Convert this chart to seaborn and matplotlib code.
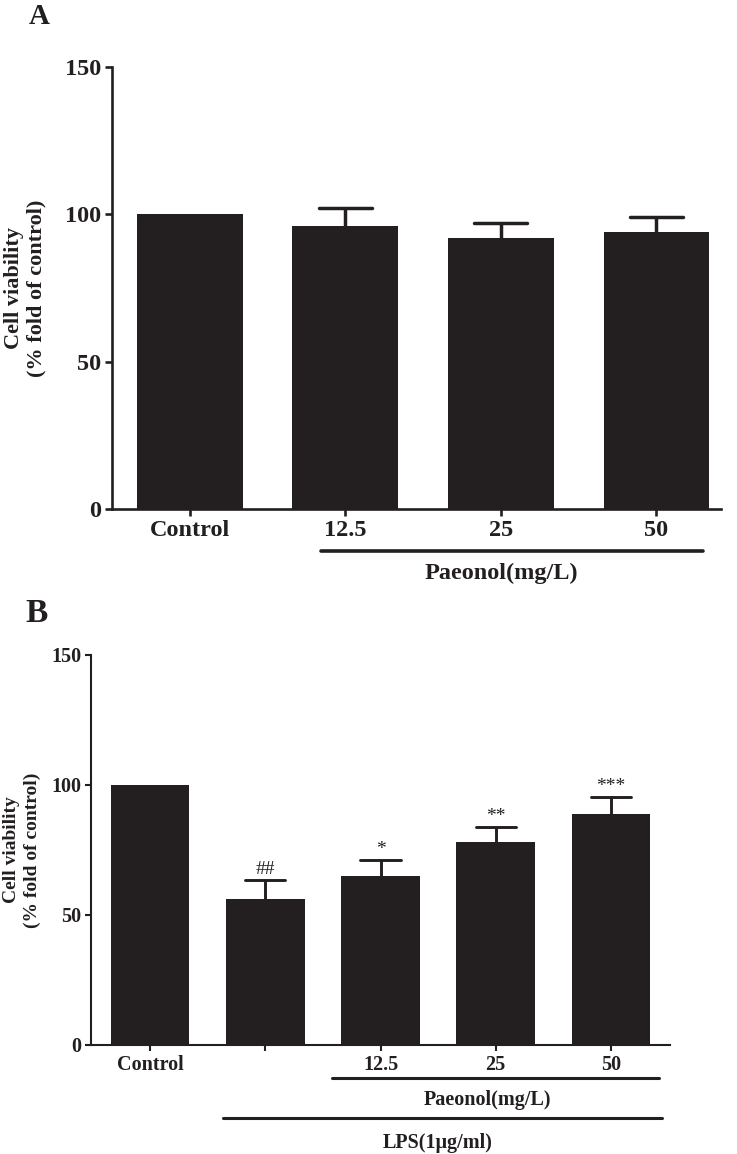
import matplotlib
matplotlib.use("Agg")
import matplotlib.pyplot as plt
import matplotlib.transforms as mtrans
import seaborn as sns
import pandas as pd
import numpy as np

# ---------------- data ----------------
a_groups = ["Control", "12.5", "25", "50"]
a_ticklabels = ["Control", "12.5", "25", "50"]
a_means = [100, 96, 92, 94]
a_sem = [0, 6, 5, 5]

b_groups = ["Control", "LPS", "12.5", "25", "50"]
b_ticklabels = ["Control", "", "12.5", "25", "50"]
b_means = [100, 56, 65, 78, 89]
b_sem = [0, 7.5, 6, 6, 6.5]
b_marks = ["", "##", "*", "**", "***"]

yticks = [0, 50, 100, 150]
ylabel_text = "Cell viability\n(% fold of control)"
paeonol_label = "Paeonol(mg/L)"
lps_label = "LPS(1\u03bcg/ml)"

# ---------------- style ----------------
sns.set_theme(style="ticks")
plt.rcParams["font.family"] = ["Liberation Serif", "DejaVu Serif"]
plt.rcParams["font.weight"] = "bold"
plt.rcParams["axes.labelweight"] = "bold"
BAR = "#231f20"

W, H = 737, 1154
fig = plt.figure(figsize=(W / 100, H / 100), dpi=100)
fig.patch.set_facecolor("white")


def axrect(l, t, r, b):
    return [l / W, 1 - b / H, (r - l) / W, (b - t) / H]


axA = fig.add_axes(axrect(112, 67, 721, 509))
axB = fig.add_axes(axrect(91, 655, 670, 1045))


def draw_panel(ax, groups, ticklabels, means, sem, width, capw, lw_err,
               spine_w, tick_len, fs, xlim):
    df = pd.DataFrame({"group": groups, "value": means})
    sns.barplot(data=df, x="group", y="value", order=groups, color=BAR,
                saturation=1, width=width, errorbar=None, ax=ax,
                linewidth=0, edgecolor=BAR, zorder=2)
    x = np.arange(len(groups))
    m = np.array(means, dtype=float)
    e = np.array(sem, dtype=float)
    sel = e > 0
    ax.vlines(x[sel], m[sel], (m + e)[sel], color=BAR, lw=lw_err, zorder=1)
    ax.hlines((m + e)[sel], x[sel] - capw, x[sel] + capw, color=BAR,
              lw=lw_err, zorder=1, capstyle="round")
    ax.set_ylim(0, 150)
    ax.set_yticks(yticks)
    ax.set_xlim(*xlim)
    ax.set_xticks(x)
    ax.set_xticklabels(ticklabels)
    ax.set_xlabel("")
    ax.set_ylabel("")
    sns.despine(ax=ax)
    for s in ["left", "bottom"]:
        ax.spines[s].set_linewidth(spine_w)
        ax.spines[s].set_color(BAR)
    ax.tick_params(axis="both", length=tick_len, width=spine_w, color=BAR,
                   labelsize=fs, labelcolor=BAR, pad=3)
    ax.set_facecolor("white")


# ---------------- panel A ----------------
draw_panel(axA, a_groups, a_ticklabels, a_means, a_sem, width=0.68, capw=0.17,
           lw_err=2.5, spine_w=1.9, tick_len=5, fs=17.5, xlim=(-0.5, 3.415))
tA = mtrans.blended_transform_factory(axA.transData, axA.transAxes)
iA = a_groups.index("12.5")
jA = a_groups.index("50")
axA.plot([iA - 0.156, jA + 0.30], [-0.095, -0.095], transform=tA,
         clip_on=False, lw=2.6, color=BAR, solid_capstyle="round")
axA.text((iA + jA) / 2, -0.145, paeonol_label, transform=tA, ha="center",
         va="center", fontsize=17.5, color=BAR)
axA.text(-0.143, 0.5, ylabel_text, transform=axA.transAxes, rotation=90,
         ha="center", va="center", multialignment="center", fontsize=16,
         linespacing=1.15, color=BAR)

# ---------------- panel B ----------------
draw_panel(axB, b_groups, b_ticklabels, b_means, b_sem, width=0.685,
           capw=0.174, lw_err=2.1, spine_w=1.5, tick_len=4, fs=14.5,
           xlim=(-0.512, 4.512))
for i, mk in enumerate(b_marks):
    if mk:
        axB.annotate(mk, (i, b_means[i] + b_sem[i]), xytext=(0, 1.5),
                     textcoords="offset points", ha="center", va="bottom",
                     fontsize=14, fontweight="normal", color=BAR)
tB = mtrans.blended_transform_factory(axB.transData, axB.transAxes)
iB = b_groups.index("12.5")
jB = b_groups.index("50")
kB = b_groups.index("LPS")
axB.plot([iB - 0.42, jB + 0.42], [-0.085, -0.085], transform=tB,
         clip_on=False, lw=2.2, color=BAR, solid_capstyle="round")
axB.text((iB + jB) / 2 - 0.07, -0.141, paeonol_label, transform=tB,
         ha="center", va="center", fontsize=14.5, color=BAR)
axB.plot([kB - 0.367, jB + 0.442], [-0.187, -0.187], transform=tB,
         clip_on=False, lw=2.2, color=BAR, solid_capstyle="round")
axB.text((kB + jB) / 2, -0.251, lps_label, transform=tB, ha="center",
         va="center", fontsize=14.5, color=BAR)
axB.text(-0.119, 0.5, ylabel_text, transform=axB.transAxes, rotation=90,
         ha="center", va="center", multialignment="center", fontsize=14,
         linespacing=1.25, color=BAR)

# ---------------- panel letters ----------------
fig.text(29 / W, 1 - 24 / H, "A", fontsize=21, va="baseline", ha="left",
         color=BAR)
fig.text(25 / W, 1 - 622 / H, "B", fontsize=24, va="baseline", ha="left",
         color=BAR)

fig.savefig("out.png", dpi=100, facecolor="white")
